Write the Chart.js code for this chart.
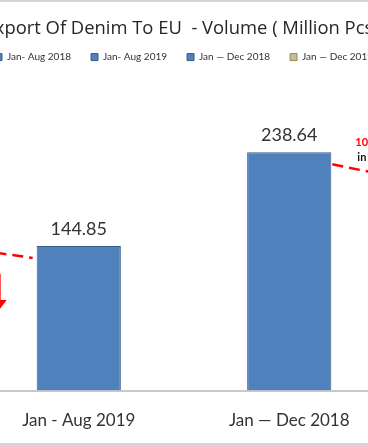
<!DOCTYPE html>
<html>
<head>
<meta charset="utf-8">
<script src="https://cdn.jsdelivr.net/npm/chart.js@4.4.1/dist/chart.umd.min.js"></script>
<style>
  html, body { margin: 0; padding: 0; background: #fff; overflow: hidden; }
  #chartBox { position: absolute; left: -246px; top: 2px; width: 860px; height: 441px; }
  #frame {
    position: absolute; left: -246px; top: 0; width: 860px; height: 445px;
    box-sizing: border-box; border: 2px solid #d4d4d4; border-radius: 4px; pointer-events: none;
  }
</style>
</head>
<body>
<div id="chartBox"><canvas id="denim"></canvas></div>
<div id="frame"></div>
<script>
const titleText = 'Export Of Denim To EU  - Volume ( Million Pcs )';
const categories = ['Jan - Aug 2018', 'Jan - Aug 2019', 'Jan \u2014 Dec 2018', 'Jan \u2014 Dec 2019'];
const legendNames = ['Jan- Aug 2018', 'Jan- Aug 2019', 'Jan \u2014 Dec 2018', 'Jan \u2014 Dec 2019'];
const volumes = [162.3, 144.85, 238.64, 214.1];
const barColors = ['#4f81bd', '#4f81bd', '#4f81bd', '#c4bd97'];
const borderColors = ['#385d8a', '#385d8a', '#385d8a', '#948a54'];

const FONT = 'Lato';

// one dataset per period so every period gets its own legend entry
const datasets = categories.map((c, i) => ({
  label: legendNames[i],
  data: volumes.map((v, j) => (j === i ? v : null)),
  backgroundColor: barColors[i],
  borderColor: borderColors[i],
  borderWidth: 1,
  barPercentage: 0.4,
  categoryPercentage: 1
}));

const valueLabels = {
  id: 'valueLabels',
  afterDatasetsDraw(chart) {
    const ctx = chart.ctx;
    ctx.save();
    ctx.font = '18px ' + FONT;
    ctx.fillStyle = '#333';
    ctx.textAlign = 'center';
    ctx.textBaseline = 'alphabetic';
    chart.data.datasets.forEach((ds, i) => {
      const bar = chart.getDatasetMeta(i).data[i];
      ctx.fillText(ds.data[i].toFixed(2), bar.x, bar.y - 11);
    });
    ctx.restore();
  }
};

// red dashed connectors, % change notes and down arrows
const changeNotes = {
  id: 'changeNotes',
  afterDatasetsDraw(chart) {
    const ctx = chart.ctx;
    const bar = i => chart.getDatasetMeta(i).data[i];
    [[0, 1], [2, 3]].forEach(([a, b]) => {
      const A = bar(a), B = bar(b);
      const x1 = A.x + A.width / 2 + 1, y1 = A.y + 12;
      const x2 = B.x - B.width / 2 - 4, y2 = B.y + 12;
      ctx.save();
      ctx.strokeStyle = '#ff0000';
      ctx.lineWidth = 2.5;
      ctx.setLineDash([11, 6]);
      ctx.beginPath();
      ctx.moveTo(x1, y1);
      ctx.lineTo(x2, y2);
      ctx.stroke();
      ctx.setLineDash([]);

      const pct = ((volumes[a] - volumes[b]) / volumes[a] * 100).toFixed(2) + '%';
      ctx.font = 'bold 11px ' + FONT;
      ctx.textAlign = 'left';
      ctx.fillStyle = '#ff0000';
      ctx.fillText(pct, x1 + 23, A.y - 10);
      ctx.fillStyle = '#111';
      ctx.fillText('in volume', x1 + 25, A.y + 5);

      // down arrow
      const ax = B.x - B.width / 2 - 39, ay = B.y + 28;
      ctx.fillStyle = '#ff0000';
      ctx.beginPath();
      ctx.moveTo(ax - 3, ay);
      ctx.lineTo(ax + 3, ay);
      ctx.lineTo(ax + 3, ay + 26);
      ctx.lineTo(ax + 9, ay + 26);
      ctx.lineTo(ax, ay + 38);
      ctx.lineTo(ax - 9, ay + 26);
      ctx.lineTo(ax - 3, ay + 26);
      ctx.closePath();
      ctx.fill();
      ctx.restore();
    });
  }
};

new Chart(document.getElementById('denim'), {
  type: 'bar',
  data: { labels: categories, datasets: datasets },
  options: {
    responsive: true,
    maintainAspectRatio: false,
    animation: false,
    skipNull: true,
    layout: { padding: { left: 9, right: 9, top: 4, bottom: 0 } },
    plugins: {
      title: {
        display: true,
        text: titleText,
        color: '#262626',
        font: { family: 'Open Sans', size: 18.4, weight: 'normal' },
        padding: { top: 12, bottom: -8 }
      },
      legend: {
        display: true,
        labels: {
          font: { family: FONT, size: 10 },
          color: '#333',
          boxWidth: 7,
          boxHeight: 7,
          padding: 20
        }
      },
      tooltip: { enabled: false }
    },
    scales: {
      x: {
        grid: { display: false },
        border: { display: true, color: '#c8c8c8', width: 2 },
        ticks: { font: { family: FONT, size: 17 }, color: '#333', padding: 12 }
      },
      y: {
        display: false,
        min: 0,
        max: 319
      }
    }
  },
  plugins: [valueLabels, changeNotes]
});
</script>
</body>
</html>
